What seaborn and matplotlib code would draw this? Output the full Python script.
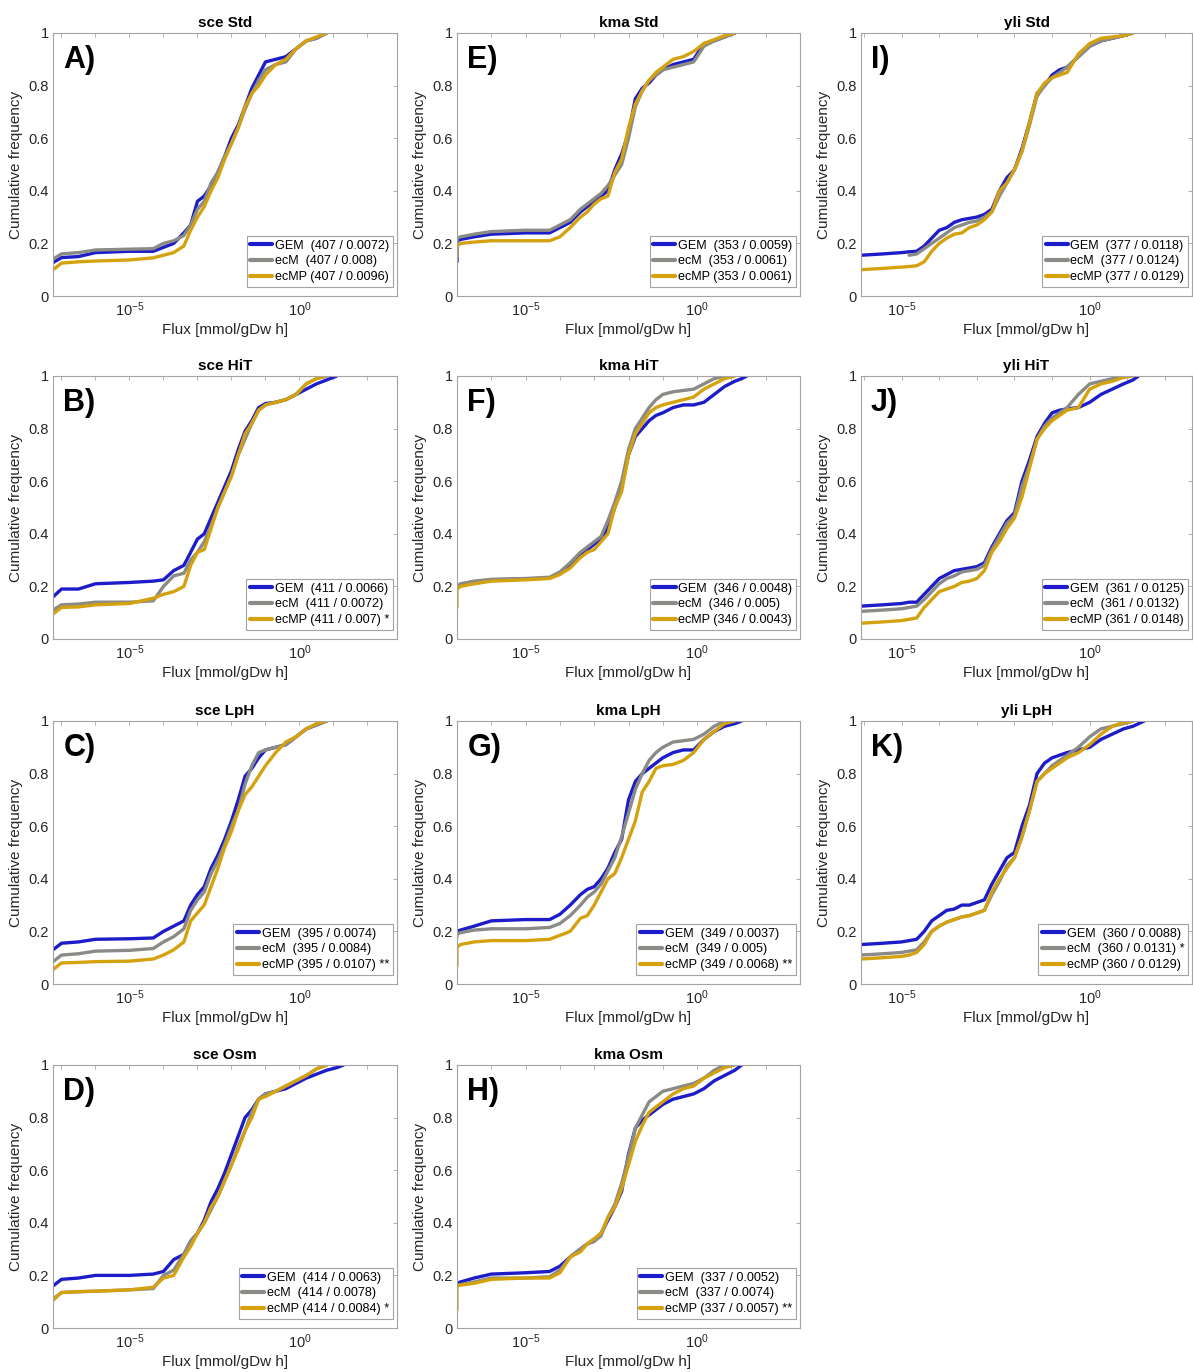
import numpy as np
import pandas as pd
import matplotlib
matplotlib.use("Agg")
import matplotlib.pyplot as plt
from matplotlib.ticker import FixedLocator, FixedFormatter, NullFormatter
import seaborn as sns

nan = np.nan

models = ["GEM", "ecM", "ecMP"]
palette = {"GEM": "#1c1cc8", "ecM": "#8a8b86", "ecMP": "#d4a20e"}

# log10(flux) sampling points for each organism
grid_sce = [-7.25, -7.0, -6.5, -6.0, -5.0, -4.3, -4.0, -3.7, -3.4, -3.2, -3.0, -2.8, -2.6, -2.4,
            -2.2, -2.0, -1.8, -1.6, -1.4, -1.2, -1.0, -0.7, -0.4, -0.1, 0.2, 0.5, 0.8, 1.1, 1.3]
grid_kma = [-7.0, -7.0, -6.9, -6.5, -6.0, -5.0, -4.3, -4.0, -3.7, -3.4, -3.2, -3.0, -2.8, -2.6,
            -2.4, -2.2, -2.0, -1.8, -1.6, -1.4, -1.2, -1.0, -0.7, -0.4, -0.1, 0.2, 0.5, 0.8,
            1.1, 1.3, 1.45]
grid_yli = [-6.08, -5.5, -5.0, -4.8, -4.6, -4.4, -4.2, -4.0, -3.8, -3.6, -3.4, -3.2, -3.0, -2.8,
            -2.6, -2.4, -2.2, -2.0, -1.8, -1.6, -1.4, -1.2, -1.0, -0.8, -0.6, -0.3, 0.0, 0.3,
            0.6, 0.9, 1.15, 1.3, 1.45]

# cumulative frequency of fluxes: sce
sce_std_gem = [0.127, 0.146, 0.15, 0.165, 0.17, 0.17, 0.185, 0.2, 0.24, 0.27, 0.36, 0.38, 0.42, 0.47,
               0.53, 0.6, 0.65, 0.72, 0.79, 0.84, 0.89, 0.9, 0.91, 0.94, 0.97, 0.98, 1.0, nan, nan]
sce_std_ecm = [0.14, 0.16, 0.165, 0.175, 0.178, 0.18, 0.2, 0.21, 0.23, 0.27, 0.33, 0.36, 0.43, 0.47,
               0.53, 0.58, 0.64, 0.71, 0.77, 0.82, 0.86, 0.88, 0.89, 0.94, 0.97, 0.98, 1.0, nan, nan]
sce_std_ecmp = [0.1, 0.125, 0.13, 0.133, 0.137, 0.145, 0.155, 0.165, 0.19, 0.25, 0.3, 0.34, 0.4, 0.45,
                0.52, 0.58, 0.64, 0.72, 0.77, 0.8, 0.84, 0.88, 0.9, 0.94, 0.97, 0.985, 1.0, nan, nan]

sce_hit_gem = [0.16, 0.19, 0.19, 0.21, 0.215, 0.22, 0.225, 0.26, 0.28, 0.33, 0.38, 0.4, 0.46, 0.52,
               0.58, 0.64, 0.72, 0.79, 0.83, 0.88, 0.895, 0.9, 0.91, 0.93, 0.95, 0.97, 0.985, 1.0, nan]
sce_hit_ecm = [0.11, 0.13, 0.133, 0.14, 0.14, 0.145, 0.2, 0.24, 0.25, 0.3, 0.33, 0.37, 0.43, 0.5,
               0.56, 0.62, 0.7, 0.76, 0.82, 0.87, 0.89, 0.9, 0.91, 0.93, 0.97, 0.99, 1.0, nan, nan]
sce_hit_ecmp = [0.095, 0.12, 0.122, 0.13, 0.135, 0.155, 0.17, 0.18, 0.2, 0.28, 0.33, 0.34, 0.42, 0.5,
                0.56, 0.62, 0.7, 0.78, 0.82, 0.87, 0.89, 0.9, 0.91, 0.93, 0.97, 0.99, 1.0, nan, nan]

sce_lph_gem = [0.13, 0.155, 0.16, 0.17, 0.172, 0.175, 0.2, 0.22, 0.24, 0.3, 0.34, 0.37, 0.44, 0.49,
               0.55, 0.62, 0.7, 0.79, 0.82, 0.86, 0.89, 0.9, 0.91, 0.94, 0.97, 0.985, 1.0, nan, nan]
sce_lph_ecm = [0.085, 0.11, 0.115, 0.125, 0.128, 0.135, 0.16, 0.18, 0.21, 0.28, 0.32, 0.35, 0.42, 0.47,
               0.53, 0.6, 0.66, 0.76, 0.83, 0.88, 0.89, 0.9, 0.91, 0.94, 0.97, 0.985, 1.0, nan, nan]
sce_lph_ecmp = [0.055, 0.08, 0.082, 0.085, 0.087, 0.095, 0.11, 0.13, 0.16, 0.24, 0.27, 0.3, 0.37, 0.44,
                0.52, 0.58, 0.66, 0.72, 0.75, 0.79, 0.83, 0.88, 0.92, 0.94, 0.97, 0.99, 1.0, nan, nan]

sce_osm_gem = [0.16, 0.185, 0.19, 0.2, 0.2, 0.205, 0.215, 0.26, 0.28, 0.33, 0.36, 0.41, 0.48, 0.53,
               0.59, 0.66, 0.73, 0.8, 0.83, 0.87, 0.89, 0.9, 0.91, 0.93, 0.95, 0.965, 0.98, 0.99, 1.0]
sce_osm_ecm = [0.11, 0.135, 0.138, 0.14, 0.145, 0.15, 0.2, 0.22, 0.28, 0.33, 0.36, 0.4, 0.45, 0.5,
               0.56, 0.62, 0.69, 0.75, 0.82, 0.87, 0.89, 0.9, 0.92, 0.94, 0.96, 0.985, 1.0, nan, nan]
sce_osm_ecmp = [0.105, 0.135, 0.138, 0.14, 0.145, 0.155, 0.19, 0.2, 0.27, 0.31, 0.36, 0.4, 0.46, 0.5,
                0.56, 0.62, 0.68, 0.75, 0.8, 0.87, 0.88, 0.9, 0.92, 0.94, 0.96, 0.985, 1.0, nan, nan]

# cumulative frequency of fluxes: kma
kma_std_gem = [0.13, 0.21, 0.215, 0.225, 0.235, 0.24, 0.24, 0.26, 0.28, 0.32, 0.34, 0.36, 0.38, 0.4,
               0.48, 0.54, 0.62, 0.75, 0.79, 0.81, 0.84, 0.86, 0.88, 0.89, 0.9, 0.96, 0.97, 0.985,
               1.0, nan, nan]
kma_std_ecm = [0.2, 0.22, 0.225, 0.235, 0.245, 0.25, 0.25, 0.27, 0.29, 0.33, 0.35, 0.37, 0.39, 0.42,
               0.46, 0.5, 0.6, 0.72, 0.78, 0.82, 0.84, 0.86, 0.87, 0.88, 0.89, 0.95, 0.97, 0.985,
               1.0, nan, nan]
kma_std_ecmp = [0.15, 0.19, 0.2, 0.205, 0.21, 0.21, 0.21, 0.225, 0.26, 0.3, 0.32, 0.35, 0.37, 0.38,
                0.47, 0.52, 0.64, 0.73, 0.78, 0.82, 0.85, 0.87, 0.9, 0.91, 0.93, 0.96, 0.975, 0.99,
                1.0, nan, nan]

kma_hit_gem = [0.2, 0.2, 0.205, 0.215, 0.225, 0.228, 0.232, 0.25, 0.28, 0.32, 0.34, 0.36, 0.38, 0.42,
               0.5, 0.58, 0.7, 0.77, 0.8, 0.83, 0.85, 0.86, 0.88, 0.89, 0.89, 0.9, 0.93, 0.96,
               0.98, 0.99, 1.0]
kma_hit_ecm = [0.19, 0.2, 0.21, 0.22, 0.227, 0.23, 0.235, 0.255, 0.29, 0.33, 0.35, 0.37, 0.39, 0.45,
               0.52, 0.6, 0.72, 0.8, 0.84, 0.88, 0.91, 0.93, 0.94, 0.945, 0.95, 0.97, 0.99, 1.0,
               nan, nan, nan]
kma_hit_ecmp = [0.12, 0.19, 0.2, 0.21, 0.22, 0.225, 0.23, 0.245, 0.27, 0.31, 0.33, 0.34, 0.37, 0.4,
                0.5, 0.56, 0.7, 0.78, 0.82, 0.86, 0.88, 0.89, 0.9, 0.91, 0.92, 0.95, 0.97, 0.99,
                1.0, nan, nan]

kma_lph_gem = [0.2, 0.2, 0.205, 0.22, 0.24, 0.245, 0.245, 0.265, 0.3, 0.34, 0.36, 0.37, 0.4, 0.44,
               0.5, 0.55, 0.7, 0.77, 0.8, 0.82, 0.84, 0.86, 0.88, 0.89, 0.89, 0.93, 0.96, 0.98,
               0.99, 1.0, nan]
kma_lph_ecm = [0.18, 0.19, 0.195, 0.205, 0.21, 0.21, 0.215, 0.23, 0.26, 0.3, 0.33, 0.35, 0.38, 0.43,
               0.48, 0.56, 0.65, 0.74, 0.8, 0.85, 0.88, 0.9, 0.92, 0.925, 0.93, 0.95, 0.98, 1.0,
               nan, nan, nan]
kma_lph_ecmp = [0.07, 0.14, 0.15, 0.16, 0.165, 0.165, 0.17, 0.185, 0.2, 0.25, 0.26, 0.3, 0.35, 0.4,
                0.42, 0.48, 0.55, 0.62, 0.73, 0.77, 0.82, 0.83, 0.835, 0.85, 0.88, 0.93, 0.96, 0.99,
                1.0, nan, nan]

kma_osm_gem = [0.17, 0.17, 0.175, 0.19, 0.205, 0.21, 0.215, 0.235, 0.27, 0.3, 0.32, 0.33, 0.36, 0.41,
               0.46, 0.52, 0.66, 0.76, 0.79, 0.81, 0.83, 0.85, 0.87, 0.88, 0.89, 0.91, 0.94, 0.96,
               0.98, 1.0, nan]
kma_osm_ecm = [0.16, 0.16, 0.165, 0.175, 0.19, 0.19, 0.195, 0.22, 0.27, 0.3, 0.32, 0.33, 0.35, 0.42,
               0.47, 0.55, 0.65, 0.76, 0.81, 0.86, 0.88, 0.9, 0.91, 0.92, 0.93, 0.95, 0.98, 1.0,
               nan, nan, nan]
kma_osm_ecmp = [0.07, 0.16, 0.163, 0.17, 0.185, 0.19, 0.19, 0.21, 0.27, 0.29, 0.32, 0.34, 0.36, 0.42,
                0.46, 0.53, 0.62, 0.71, 0.77, 0.82, 0.84, 0.86, 0.89, 0.91, 0.92, 0.95, 0.97, 0.99,
                1.0, nan, nan]

# cumulative frequency of fluxes: yli
yli_std_gem = [0.155, 0.16, 0.165, 0.168, 0.17, 0.19, 0.22, 0.25, 0.26, 0.28, 0.29, 0.295, 0.3, 0.31,
               0.33, 0.4, 0.45, 0.48, 0.56, 0.66, 0.77, 0.8, 0.84, 0.86, 0.87, 0.91, 0.95, 0.97,
               0.98, 0.99, 1.0, nan, nan]
yli_std_ecm = [nan, nan, nan, 0.155, 0.16, 0.18, 0.2, 0.22, 0.24, 0.26, 0.27, 0.28, 0.285, 0.3,
               0.32, 0.38, 0.43, 0.48, 0.55, 0.65, 0.76, 0.8, 0.83, 0.85, 0.87, 0.91, 0.95, 0.97,
               0.98, 0.99, 1.0, nan, nan]
yli_std_ecmp = [0.1, 0.105, 0.11, 0.112, 0.115, 0.13, 0.17, 0.2, 0.22, 0.235, 0.24, 0.26, 0.27, 0.29,
                0.32, 0.4, 0.43, 0.48, 0.55, 0.66, 0.77, 0.81, 0.83, 0.84, 0.85, 0.92, 0.96, 0.98,
                0.985, 0.99, 1.0, nan, nan]

yli_hit_gem = [0.125, 0.13, 0.135, 0.14, 0.14, 0.17, 0.2, 0.23, 0.245, 0.26, 0.265, 0.27, 0.275, 0.29,
               0.35, 0.4, 0.45, 0.48, 0.6, 0.68, 0.77, 0.82, 0.86, 0.87, 0.875, 0.88, 0.9, 0.93,
               0.95, 0.97, 0.985, 1.0, nan]
yli_hit_ecm = [0.105, 0.11, 0.115, 0.12, 0.125, 0.15, 0.18, 0.21, 0.23, 0.24, 0.255, 0.26, 0.265, 0.28,
               0.34, 0.39, 0.44, 0.47, 0.58, 0.66, 0.76, 0.81, 0.84, 0.86, 0.88, 0.93, 0.97, 0.98,
               0.99, 1.0, nan, nan, nan]
yli_hit_ecmp = [0.06, 0.065, 0.07, 0.075, 0.08, 0.12, 0.15, 0.18, 0.19, 0.2, 0.215, 0.22, 0.23, 0.26,
                0.33, 0.37, 0.42, 0.46, 0.54, 0.65, 0.76, 0.8, 0.83, 0.85, 0.87, 0.88, 0.95, 0.97,
                0.98, 0.995, 1.0, nan, nan]

yli_lph_gem = [0.15, 0.155, 0.16, 0.165, 0.17, 0.2, 0.24, 0.26, 0.28, 0.285, 0.3, 0.3, 0.31, 0.32,
               0.38, 0.43, 0.48, 0.5, 0.6, 0.68, 0.8, 0.84, 0.86, 0.87, 0.88, 0.89, 0.9, 0.93,
               0.95, 0.97, 0.98, 0.99, 1.0]
yli_lph_ecm = [0.11, 0.115, 0.12, 0.125, 0.13, 0.16, 0.2, 0.22, 0.235, 0.245, 0.255, 0.26, 0.27, 0.28,
               0.34, 0.39, 0.45, 0.48, 0.56, 0.66, 0.77, 0.8, 0.83, 0.85, 0.87, 0.9, 0.94, 0.97,
               0.98, 0.99, 1.0, nan, nan]
yli_lph_ecmp = [0.095, 0.1, 0.105, 0.11, 0.12, 0.15, 0.2, 0.22, 0.235, 0.245, 0.255, 0.26, 0.27, 0.28,
                0.35, 0.4, 0.44, 0.48, 0.56, 0.66, 0.77, 0.8, 0.82, 0.84, 0.86, 0.88, 0.91, 0.95,
                0.98, 0.995, 1.0, nan, nan]

# panel annotations
panel_letters = ["A", "B", "C", "D", "E", "F", "G", "H", "I", "J", "K"]
panel_titles = ["sce Std", "sce HiT", "sce LpH", "sce Osm",
                "kma Std", "kma HiT", "kma LpH", "kma Osm",
                "yli Std", "yli HiT", "yli LpH"]
n_reactions = [407, 411, 395, 414, 353, 346, 349, 337, 377, 361, 360]
median_gem = [0.0072, 0.0066, 0.0074, 0.0063, 0.0059, 0.0048, 0.0037, 0.0052, 0.0118, 0.0125, 0.0088]
median_ecm = [0.008, 0.0072, 0.0084, 0.0078, 0.0061, 0.005, 0.005, 0.0074, 0.0124, 0.0132, 0.0131]
median_ecmp = [0.0096, 0.007, 0.0107, 0.0084, 0.0061, 0.0043, 0.0068, 0.0057, 0.0129, 0.0148, 0.0129]
signif_ecm = ["", "", "", "", "", "", "", "", "", "", "*"]
signif_ecmp = ["", "*", "**", "*", "", "", "**", "**", "", "", ""]

curves = [
    (grid_sce, sce_std_gem, sce_std_ecm, sce_std_ecmp),
    (grid_sce, sce_hit_gem, sce_hit_ecm, sce_hit_ecmp),
    (grid_sce, sce_lph_gem, sce_lph_ecm, sce_lph_ecmp),
    (grid_sce, sce_osm_gem, sce_osm_ecm, sce_osm_ecmp),
    (grid_kma, kma_std_gem, kma_std_ecm, kma_std_ecmp),
    (grid_kma, kma_hit_gem, kma_hit_ecm, kma_hit_ecmp),
    (grid_kma, kma_lph_gem, kma_lph_ecm, kma_lph_ecmp),
    (grid_kma, kma_osm_gem, kma_osm_ecm, kma_osm_ecmp),
    (grid_yli, yli_std_gem, yli_std_ecm, yli_std_ecmp),
    (grid_yli, yli_hit_gem, yli_hit_ecm, yli_hit_ecmp),
    (grid_yli, yli_lph_gem, yli_lph_ecm, yli_lph_ecmp),
]

# x-range (log10) for each organism column
xrange_cols = [(-7.25, 2.87), (-7.0, 3.0), (-6.08, 2.72)]

sns.set_theme(style="white")
plt.rcParams["font.family"] = ["Liberation Sans", "DejaVu Sans"]
plt.rcParams["mathtext.default"] = "regular"

W, H = 1193, 1372
fig = plt.figure(figsize=(W / 100, H / 100), dpi=100)
col_left = [53, 457, 861]
col_width = [344, 343, 331]
row_top = [33, 376, 721, 1065]
ax_h = 263

spine_col = "#a3a3a3"
text_col = "#262626"

for i in range(11):
    col, row = divmod(i, 4)
    rect = [col_left[col] / W, 1 - (row_top[row] + ax_h) / H, col_width[col] / W, ax_h / H]
    ax = fig.add_axes(rect)
    grid, gem, ecm, ecmp = curves[i]

    frames = []
    for name, vals in zip(models, (gem, ecm, ecmp)):
        d = pd.DataFrame({"flux": 10.0 ** np.asarray(grid), "cdf": vals, "model": name})
        frames.append(d.dropna())
    df = pd.concat(frames, ignore_index=True)

    ax.set_xscale("log")
    sns.lineplot(data=df, x="flux", y="cdf", hue="model", hue_order=models,
                 palette=palette, estimator=None, sort=False, linewidth=2.4,
                 legend=False, ax=ax)

    lo, hi = xrange_cols[col]
    ax.set_xlim(10.0 ** lo, 10.0 ** hi)
    ax.set_ylim(0, 1)

    ax.xaxis.set_major_locator(FixedLocator([1e-5, 1e0]))
    ax.xaxis.set_major_formatter(FixedFormatter([r"$\mathdefault{10^{-5}}$", r"$\mathdefault{10^{0}}$"]))
    ax.xaxis.set_minor_locator(FixedLocator([10.0 ** k for k in range(-7, 4)]))
    ax.xaxis.set_minor_formatter(NullFormatter())
    ax.set_yticks([0, 0.2, 0.4, 0.6, 0.8, 1.0])
    ax.set_yticklabels(["0", "0.2", "0.4", "0.6", "0.8", "1"])
    ax.tick_params(which="both", direction="in", top=True, right=True, length=3,
                   width=0.6, color=spine_col, labelsize=10.5, labelcolor=text_col, pad=3)
    for sp in ax.spines.values():
        sp.set_color(spine_col)
        sp.set_linewidth(0.8)

    ax.set_xlabel("Flux [mmol/gDw h]", fontsize=11, color=text_col, labelpad=3)
    ax.set_ylabel("Cumulative frequency", fontsize=11, color=text_col, labelpad=4)
    ax.set_title(panel_titles[i], fontsize=11, fontweight="bold", color="black", pad=4)
    ax.text(0.03, 0.955, panel_letters[i] + ")", transform=ax.transAxes, fontsize=22,
            fontweight="bold", color="black", va="top", ha="left")

    n = n_reactions[i]
    labels = [
        f"GEM  ({n} / {median_gem[i]:g})",
        f"ecM  ({n} / {median_ecm[i]:g})" + (" " + signif_ecm[i] if signif_ecm[i] else ""),
        f"ecMP ({n} / {median_ecmp[i]:g})" + (" " + signif_ecmp[i] if signif_ecmp[i] else ""),
    ]
    leg = ax.legend(handles=ax.lines[:3], labels=labels, loc="lower right",
                    bbox_to_anchor=(1 - 4 / col_width[col], 9 / ax_h), borderaxespad=0,
                    fontsize=9.1, frameon=True, fancybox=False, framealpha=1,
                    edgecolor=spine_col, borderpad=0.3, labelspacing=0.3,
                    handlelength=1.75, handletextpad=0.2)
    leg.get_frame().set_linewidth(0.8)
    for h in leg.legend_handles:
        h.set_linewidth(3.0)
    for t in leg.get_texts():
        t.set_color("black")

fig.savefig("out.png", dpi=100)
